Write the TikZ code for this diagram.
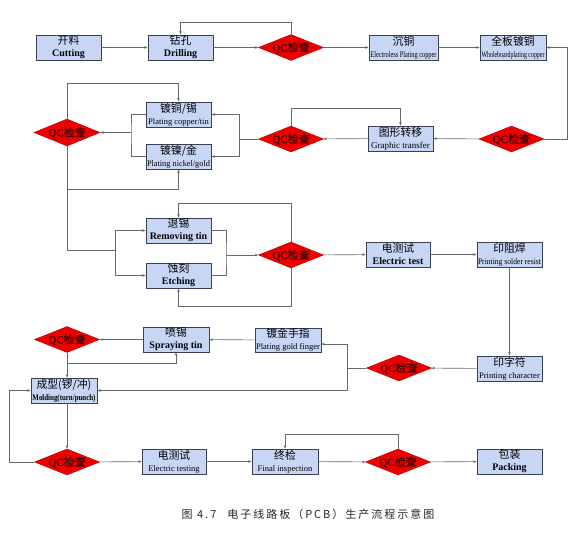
\documentclass[tikz,border=0pt]{standalone}
\usepackage{fontspec}
\usepackage{graphicx}
\setmainfont{Liberation Serif}
\newfontfamily\cjk{Noto Sans CJK SC}
\newfontfamily\cjkqc{Noto Sans CJK SC}[FakeBold=1.2]
\newfontfamily\serqc{Liberation Serif}[FakeBold=1.2]
\newfontfamily\cjkcap{Noto Sans CJK SC}[LetterSpace=18]
\usetikzlibrary{shapes.geometric,arrows.meta}
\definecolor{boxfill}{RGB}{200,214,246}
\definecolor{boxline}{RGB}{60,62,84}
\definecolor{qcred}{RGB}{236,0,0}
\definecolor{qcline}{RGB}{190,0,0}
\definecolor{qctext}{RGB}{80,0,0}
\definecolor{linec}{RGB}{105,105,105}
\newsavebox\fitbox
\newcommand\fitto[2]{\sbox\fitbox{#2}\ifdim\wd\fitbox>#1\relax\resizebox{#1}{\ht\fitbox}{\usebox\fitbox}\else\usebox\fitbox\fi}
\newcommand\zh[1]{{\cjk\fontsize{10.8}{12}\selectfont #1}}
\newcommand\enb[1]{{\fontsize{10}{12}\selectfont\bfseries #1}}
\newcommand\ens[1]{{\fontsize{8.5}{12}\selectfont #1}}
\newcommand\qct{\makebox[0pt]{\raisebox{-3.9pt}[0pt][0pt]{\color{qctext}\fontsize{11}{11}\selectfont {\serqc QC}{\cjkqc 检查}}}}
\tikzset{
  box/.style={draw=boxline, fill=boxfill, line width=0.7pt, minimum width=65pt,
    minimum height=25pt, inner sep=0pt, align=center, font=\fontsize{10}{12}\selectfont},
  qc/.style={diamond, draw=qcline, fill=qcred, line width=0.5pt, minimum width=65pt,
    minimum height=26pt, inner sep=0pt},
  conn/.style={draw=linec, line width=0.6pt},
  arr/.style={conn, -{Stealth[length=3.5pt,width=2.6pt]}}
}
\begin{document}
\begin{tikzpicture}[x=1pt,y=-1pt]
\fill[white] (0,0) rectangle (582,536);
\useasboundingbox (0,0) rectangle (582,536);

% row 1
\node[box] (cut) at (68.5,47.5) {\zh{开料}\\\enb{Cutting}};
\node[box] (drill) at (180.5,47.5) {\zh{钻孔}\\\enb{Drilling}};
\node[qc] (qc1) at (291,47.5) {\qct};
\node[box,minimum width=69pt] (chen) at (403.5,47.5) {\zh{沉铜}\\\ens{\fitto{66pt}{Electroless Plating copper}}};
\node[box,minimum width=66pt] (quan) at (513,47.5) {\zh{全板镀铜}\\\ens{\fitto{63pt}{Wholeboardplating copper}}};

% row 2
\node[qc] (qc2) at (511.5,139) {\qct};
\node[box] (tux) at (400.5,138.5) {\zh{图形转移}\\{\fontsize{9}{12}\selectfont Graphic transfer}};
\node[qc] (qc3) at (291,139) {\qct};
\node[box] (dut) at (178.5,114.5) {\zh{镀铜/锡}\\\ens{\fitto{63pt}{Plating copper/tin}}};
\node[box] (dun) at (178.5,156.5) {\zh{镀镍/金}\\\ens{\fitto{63pt}{Plating nickel/gold}}};
\node[qc,minimum width=66pt,minimum height=27pt] (qc4) at (67,132.5) {\qct};

% row 3
\node[box] (tui) at (178.5,230.5) {\zh{退锡}\\\enb{Removing tin}};
\node[box] (shi) at (178.5,275.5) {\zh{蚀刻}\\\enb{Etching}};
\node[qc] (qc5) at (291,255) {\qct};
\node[box,minimum width=64pt] (dce) at (398,254.5) {\zh{电测试}\\\enb{Electric test}};
\node[box] (yzh) at (509.5,254.5) {\zh{印阻焊}\\\ens{\fitto{63pt}{Printing solder resist}}};

% row 4
\node[box] (yzf) at (509.5,368.5) {\zh{印字符}\\\ens{\fitto{63pt}{Printing character}}};
\node[qc] (qc6) at (399,368) {\qct};
\node[box,minimum width=66pt,minimum height=24pt] (djs) at (288,340) {\zh{镀金手指}\\\ens{\fitto{64pt}{Plating gold finger}}};
\node[box,minimum width=66pt] (pen) at (176,339.5) {\zh{喷锡}\\\enb{Spraying tin}};
\node[qc] (qc7) at (67,339.5) {\qct};
\node[box,minimum width=66pt] (cx) at (64,390.5) {\zh{成型(锣/冲)}\\\ens{\bfseries\fitto{63pt}{Molding(turn/punch)}}};

% row 5
\node[qc] (qc8) at (67,462) {\qct};
\node[box,minimum width=64pt] (dcs) at (174,461.5) {\zh{电测试}\\\ens{\fitto{62pt}{Electric testing}}};
\node[box,minimum width=66pt] (zj) at (285,461.5) {\zh{终检}\\\ens{\fitto{64pt}{Final inspection}}};
\node[qc] (qc9) at (398,462) {\qct};
\node[box] (bao) at (509.5,461.5) {\zh{包装}\\\enb{Packing}};

% caption
\node[text=black!85] (cap) at (308,514) {\cjkcap\fontsize{11}{11}\selectfont 图 4.7\quad 电子线路板（PCB）生产流程示意图};

% junction coordinates
\coordinate (j1) at (239,139);
\coordinate (j2) at (131,132.5);
\coordinate (j3) at (115,250);
\coordinate (j4) at (226,255);
\coordinate (j5) at (347,368);
\coordinate (j6) at (67,363);
\coordinate (j7) at (67,189);

% connectors row 1
\draw[arr] (cut) -- (drill);
\draw[arr] (drill) -- (qc1);
\draw[arr] (qc1.north) -- (qc1.north |- 0,22) -| (drill.north);
\draw[arr] (qc1) -- (chen);
\draw[arr] (chen) -- (quan);
\draw[arr] (qc2.east) -- (567,139) |- (quan.east);

% row 2
\draw[arr] (qc2) -- (tux);
\draw[arr] (tux) -- (qc3);
\draw[arr] (qc3.north) -- (qc3.north |- 0,108) -| (tux.north);
\draw[conn] (qc3.west) -- (j1);
\draw[arr] (j1) |- (dut.east);
\draw[arr] (j1) |- (dun.east);
\draw[conn] (dut.west) -| (j2) |- (dun.west);
\draw[arr] (j2) -- (qc4.east);
\draw[arr] (qc4.north) -- (qc4.north |- 0,83) -| (dut.north);
\draw[arr] (j7) -| (dun.south);

% row 3
\draw[conn] (qc4.south) |- (j3);
\draw[arr] (j3) |- (tui.west);
\draw[arr] (j3) |- (shi.west);
\draw[conn] (tui.east) -| (j4) |- (shi.east);
\draw[arr] (j4) -- (qc5.west);
\draw[arr] (qc5.north) -- (qc5.north |- 0,203) -| (tui.north);
\draw[arr] (qc5.south) -- (qc5.south |- 0,306) -| (shi.south);
\draw[arr] (qc5) -- (dce);
\draw[arr] (dce) -- (yzh);
\draw[arr] (yzh) -- (yzf);

% row 4
\draw[arr] (yzf) -- (qc6);
\draw[conn] (qc6.west) -- (j5);
\draw[arr] (j5) |- ([yshift=-4pt]djs.east);
\draw[arr] (j5) |- (cx.east);
\draw[arr] (djs) -- (pen);
\draw[arr] (pen) -- (qc7);
\draw[conn] (qc7.south) -- (j6);
\draw[arr] (j6) -| (pen.south);
\draw[arr] (j6) -- (j6 |- cx.north);

% row 5
\draw[arr] (qc8.north |- cx.south) -- (qc8.north);
\draw[arr] (qc8.west) -- (9,462) |- (cx.west);
\draw[arr] (qc8) -- (dcs);
\draw[arr] (dcs) -- (zj);
\draw[arr] (zj) -- (qc9);
\draw[arr] (qc9.north) -- (qc9.north |- 0,434) -| (zj.north);
\draw[arr] (qc9) -- (bao);
\end{tikzpicture}
\end{document}
